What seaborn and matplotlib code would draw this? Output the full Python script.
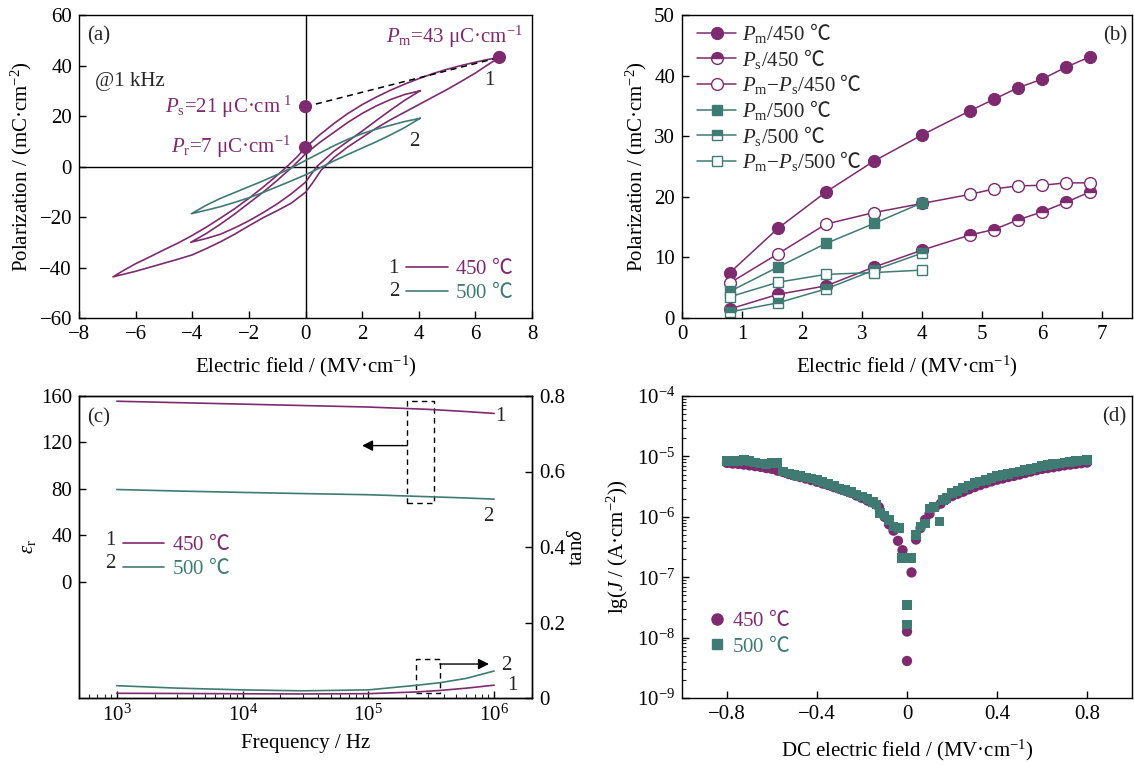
import numpy as np
import matplotlib
matplotlib.use('Agg')
import matplotlib.pyplot as plt
import seaborn as sns
from matplotlib.lines import Line2D
from matplotlib.patches import Rectangle
from matplotlib.ticker import LogLocator, NullFormatter

sns.set_theme(style='ticks')
plt.rcParams['font.family'] = ['Liberation Serif', 'DejaVu Serif', 'Noto Sans CJK SC']
plt.rcParams['mathtext.fontset'] = 'custom'
plt.rcParams['mathtext.rm'] = 'Liberation Serif'
plt.rcParams['mathtext.it'] = 'Liberation Serif:italic'
plt.rcParams['mathtext.bf'] = 'Liberation Serif:bold'
plt.rcParams['mathtext.sf'] = 'Noto Sans CJK SC'
plt.rcParams['mathtext.fallback'] = 'stix'
plt.rcParams['axes.linewidth'] = 1.0

PURPLE = '#7D2A6F'
TEAL = '#3F7B72'
FS = 15
DEG = r'$\mathsf{℃}$'

# ---------------- (a) P-E loops ----------------
LOOP450_OUT_E = [6.85, 6.4, 6.0, 5.5, 5.0, 4.5, 4.0, 3.5, 3.0, 2.5, 2.0, 1.5, 1.0, 0.5, 0.0, -0.3, -0.65,
                 -1.0, -1.5, -2.0, -2.5, -3.0, -3.5, -4.0, -4.5, -5.0, -5.5, -6.0, -6.4, -6.8,
                 -6.4, -6.0, -5.5, -5.0, -4.5, -4.0, -3.5, -3.0, -2.5, -2.0, -1.5, -1.0, -0.5, 0.0,
                 0.25, 0.55, 1.0, 1.5, 2.0, 2.5, 3.0, 3.5, 4.0, 4.5, 5.0, 5.5, 6.0, 6.4, 6.85]
LOOP450_OUT_P = [43.2, 42.3, 41.3, 40.0, 38.5, 36.8, 34.8, 32.6, 30.2, 27.5, 24.5, 21.0, 17.0, 12.5, 7.5, 3.8, 0.0,
                 -3.5, -8.2, -12.6, -16.7, -20.4, -24.0, -27.3, -30.3, -33.0, -35.8, -38.5, -41.0, -43.7,
                 -42.6, -41.5, -39.9, -38.3, -36.7, -35.0, -32.5, -29.8, -26.8, -23.5, -20.3, -17.5, -14.5, -10.2,
                 -6.5, -1.5, 3.5, 7.8, 11.5, 15.2, 18.5, 21.5, 24.5, 27.5, 30.5, 33.7, 37.0, 40.0, 43.2]
LOOP450_IN_E = [4.05, 3.5, 3.0, 2.5, 2.0, 1.5, 1.0, 0.5, 0.0, -0.45, -1.0, -1.5, -2.0, -2.5, -3.0, -3.5, -4.05,
                -3.5, -3.0, -2.5, -2.0, -1.5, -1.0, -0.5, 0.0, 0.4, 1.0, 1.5, 2.0, 2.5, 3.0, 3.5, 4.05]
LOOP450_IN_P = [30.0, 28.5, 26.5, 24.0, 21.0, 17.5, 13.5, 9.5, 5.0, 0.0, -5.5, -10.2, -14.5, -18.8, -22.8, -26.5, -30.0,
                -28.5, -26.8, -24.3, -21.5, -18.3, -14.8, -10.8, -6.2, 0.0, 6.0, 10.0, 14.0, 18.2, 22.3, 26.2, 30.0]
LOOP500_E = [4.05, 3.5, 3.0, 2.5, 2.0, 1.5, 1.0, 0.5, 0.0, -0.5, -1.0, -1.5, -2.0, -2.5, -3.0, -3.5, -4.03,
             -3.5, -3.0, -2.5, -2.0, -1.5, -1.0, -0.5, 0.0, 0.5, 1.0, 1.5, 2.0, 2.5, 3.0, 3.5, 4.05]
LOOP500_P = [19.1, 17.8, 16.3, 14.8, 13.0, 10.8, 8.2, 5.3, 2.4, -0.6, -3.2, -5.7, -8.0, -10.3, -12.6, -15.3, -18.7,
             -17.3, -15.9, -14.2, -12.4, -10.3, -8.0, -5.7, -3.3, -0.6, 2.2, 4.8, 7.3, 9.8, 12.5, 15.4, 19.1]
KEY_E = [6.85, 0.0, 0.0]
KEY_P = [43.2, 23.7, 7.5]

# ---------------- (b) P vs E ----------------
E_450 = [0.8, 1.6, 2.4, 3.2, 4.0, 4.8, 5.2, 5.6, 6.0, 6.4, 6.8]
PM_450 = [7.5, 14.8, 20.8, 25.9, 30.2, 34.2, 36.1, 38.0, 39.4, 41.4, 43.1]
PS_450 = [1.5, 3.9, 5.3, 8.4, 11.2, 13.7, 14.6, 16.2, 17.5, 19.1, 20.8]
PD_450 = [5.8, 10.6, 15.5, 17.4, 18.9, 20.4, 21.3, 21.8, 21.9, 22.3, 22.3]
E_500 = [0.8, 1.6, 2.4, 3.2, 4.0]
PM_500 = [4.4, 8.4, 12.3, 15.6, 19.0]
PS_500 = [1.0, 2.5, 4.8, 7.9, 10.7]
PD_500 = [3.5, 5.9, 7.2, 7.5, 7.9]

# ---------------- (c) dielectric ----------------
FREQ_EPS = [1e3, 3e3, 1e4, 3e4, 1e5, 3e5, 6e5, 1e6]
EPS_450 = [155.5, 154.3, 153.0, 151.8, 150.5, 148.5, 146.6, 145.0]
EPS_500 = [79.5, 78.2, 77.0, 76.0, 75.0, 73.3, 72.2, 71.2]
FREQ_TAN = [1e3, 3e3, 1e4, 3e4, 1e5, 2.4e5, 3.7e5, 6e5, 1e6]
TAN_450 = [0.0125, 0.012, 0.0112, 0.0108, 0.0115, 0.016, 0.020, 0.026, 0.034]
TAN_500 = [0.0326, 0.0262, 0.0215, 0.019, 0.0215, 0.0336, 0.0405, 0.052, 0.0715]
BOX_EPS = (2.04e5, 3.3e5, 67.7, 156.0)
BOX_TAN = (2.37e5, 3.7e5, 0.0124, 0.103)

# ---------------- (d) leakage ----------------
DC_450 = [-0.800, -0.775, -0.750, -0.725, -0.700, -0.675, -0.650, -0.625, -0.600, -0.575, -0.550, -0.525,
          -0.500, -0.475, -0.450, -0.425, -0.400, -0.375, -0.350, -0.325, -0.300, -0.275, -0.250, -0.225,
          -0.200, -0.175, -0.150, -0.125, -0.100, -0.080, -0.060, -0.040, -0.020, 0.000, 0.000, 0.020,
          0.040, 0.060, 0.080, 0.100, 0.125, 0.150, 0.175, 0.200, 0.225, 0.250, 0.275, 0.300, 0.325,
          0.350, 0.375, 0.400, 0.425, 0.450, 0.475, 0.500, 0.525, 0.550, 0.575, 0.600, 0.625, 0.650,
          0.675, 0.700, 0.725, 0.750, 0.775, 0.800]
J_450 = [7.8, 7.6, 7.5, 7.3, 7.1, 6.9, 6.7, 6.4, 6.2, 5.8, 5.5, 5.1,
         4.8, 4.55, 4.3, 4.05, 3.8, 3.55, 3.35, 3.1, 2.9, 2.7, 2.5, 2.25,
         2.05, 1.85, 1.7, 1.45, 1.0, 0.75, 0.59, 0.40, 0.28, 0.0126, 0.0041, 0.12,
         0.42, 0.65, 0.89, 1.12, 1.45, 1.65, 1.95, 2.2, 2.4, 2.6, 2.85, 3.1, 3.35,
         3.6, 3.85, 4.1, 4.3, 4.55, 4.75, 5.0, 5.3, 5.6, 5.9, 6.2, 6.4, 6.6,
         6.85, 7.1, 7.3, 7.5, 7.7, 7.9]
DC_500 = [-0.800, -0.775, -0.750, -0.725, -0.700, -0.675, -0.650, -0.625, -0.600, -0.575, -0.550, -0.525,
          -0.500, -0.475, -0.450, -0.425, -0.400, -0.375, -0.350, -0.325, -0.300, -0.275, -0.250, -0.225,
          -0.200, -0.175, -0.150, -0.135, -0.120, -0.100, -0.080, -0.060, -0.035, -0.024, 0.000, 0.000,
          0.019, 0.040, 0.060, 0.080, 0.100, 0.120, 0.145, 0.160, 0.175, 0.200, 0.225, 0.250, 0.275,
          0.300, 0.325, 0.350, 0.375, 0.400, 0.425, 0.450, 0.475, 0.500, 0.525, 0.550, 0.575, 0.600,
          0.625, 0.650, 0.675, 0.700, 0.725, 0.750, 0.775, 0.800]
J_500 = [8.3, 8.4, 8.4, 8.7, 8.3, 7.9, 7.6, 7.4, 7.8, 7.7, 5.6, 5.2,
         4.9, 4.7, 4.5, 4.3, 4.1, 3.8, 3.5, 3.2, 2.95, 2.75, 2.55, 2.35,
         2.18, 1.95, 1.75, 1.6, 1.15, 1.05, 0.89, 0.69, 0.65, 0.21, 0.035, 0.0165,
         0.21, 0.5, 0.69, 0.78, 1.38, 1.45, 0.83, 1.9, 2.05, 2.45, 2.7, 3.0, 3.3,
         3.6, 3.85, 4.1, 4.4, 4.7, 4.9, 5.15, 5.4, 5.6, 5.9, 6.2, 6.55, 6.9,
         7.15, 7.4, 7.65, 7.9, 8.1, 8.3, 8.5, 8.7]
DC_TICKS = [-0.8, -0.4, 0.0, 0.4, 0.8]
DC_TICKLABELS = ['\u22120.8', '\u22120.4', '0', '0.4', '0.8']


def style_axis(ax):
    ax.tick_params(direction='in', length=5, width=1, labelsize=FS, pad=5, colors='black')
    ax.tick_params(which='minor', direction='in', length=3, width=0.8)
    for s in ax.spines.values():
        s.set_color('black')
        s.set_linewidth(1.0)
    ax.grid(False)


fig = plt.figure(figsize=(11.34, 7.65), dpi=100)
W, H = 1134, 765
ax_a = fig.add_axes([79 / W, 1 - 318 / H, 453 / W, 303 / H])
ax_b = fig.add_axes([682 / W, 1 - 318 / H, 450 / W, 303 / H])
ax_c = fig.add_axes([79 / W, 1 - 698 / H, 453 / W, 302 / H])
ax_d = fig.add_axes([682 / W, 1 - 698 / H, 450 / W, 302 / H])

# ---------- panel (a) ----------
ax = ax_a
ax.axhline(0, color='black', lw=1.0, zorder=1)
ax.axvline(0, color='black', lw=1.0, zorder=1)
for e, p, c in [(LOOP450_OUT_E, LOOP450_OUT_P, PURPLE), (LOOP450_IN_E, LOOP450_IN_P, PURPLE),
                (LOOP500_E, LOOP500_P, TEAL)]:
    sns.lineplot(x=e, y=p, sort=False, estimator=None, color=c, lw=1.2, ax=ax)
sns.lineplot(x=[KEY_E[1], KEY_E[0]], y=[KEY_P[1], KEY_P[0]], sort=False, estimator=None,
             color='black', lw=1.1, linestyle=(0, (4, 3)), ax=ax)
sns.scatterplot(x=KEY_E, y=KEY_P, color=PURPLE, s=90, edgecolor='none', zorder=5, ax=ax)
ax.set_xlim(-8, 8)
ax.set_ylim(-60, 60)
ax.set_xticks(range(-8, 9, 2))
ax.set_yticks(range(-60, 61, 20))
style_axis(ax)
ax.set_xlabel(r'Electric field / (MV·cm$^{-1}$)', fontsize=FS, color='black', labelpad=7)
ax.set_ylabel(r'Polarization / (mC·cm$^{-2}$)', fontsize=FS, color='black')
ax.text(0.019, 0.93, '(a)', transform=ax.transAxes, fontsize=FS, va='center', ha='left')
ax.text(-7.45, 33.5, '@1 kHz', fontsize=FS, va='center', ha='left')
ax.text(7.7, 51.4, r'$P_\mathrm{m}$=43 μC·cm$^{-1}$', fontsize=FS, color=PURPLE, va='center', ha='right')
ax.text(-0.49, 23.7, r'$P_\mathrm{s}$=21 μC·cm$^{\ 1}$', fontsize=FS, color=PURPLE, va='center', ha='right')
ax.text(-0.49, 7.6, r'$P_\mathrm{r}$=7 μC·cm$^{-1}$', fontsize=FS, color=PURPLE, va='center', ha='right')
ax.text(6.5, 34.2, '1', fontsize=FS, va='center', ha='center')
ax.text(3.85, 9.8, '2', fontsize=FS, va='center', ha='center')
leg = ax.legend(handles=[Line2D([], [], color=PURPLE, lw=1.2), Line2D([], [], color=TEAL, lw=1.2)],
                labels=['450 ' + DEG, '500 ' + DEG], loc='upper left', bbox_to_anchor=(0.722, 0.197),
                frameon=False, fontsize=FS, handlelength=2.0, handletextpad=0.35, labelspacing=0.15,
                borderpad=0, borderaxespad=0)
for t, c in zip(leg.get_texts(), [PURPLE, TEAL]):
    t.set_color(c)
ax.text(0.695, 0.165, '1', transform=ax.transAxes, fontsize=FS, va='center', ha='center')
ax.text(0.695, 0.087, '2', transform=ax.transAxes, fontsize=FS, va='center', ha='center')

# ---------- panel (b) ----------
ax = ax_b
series_b = [
    (E_450, PM_450, PURPLE, 'o', 'full', r'$P_\mathrm{m}$/450 ' + DEG),
    (E_450, PS_450, PURPLE, 'o', 'top', r'$P_\mathrm{s}$/450 ' + DEG),
    (E_450, PD_450, PURPLE, 'o', 'none', r'$P_\mathrm{m}$−$P_\mathrm{s}$/450 ' + DEG),
    (E_500, PM_500, TEAL, 's', 'full', r'$P_\mathrm{m}$/500 ' + DEG),
    (E_500, PS_500, TEAL, 's', 'top', r'$P_\mathrm{s}$/500 ' + DEG),
    (E_500, PD_500, TEAL, 's', 'none', r'$P_\mathrm{m}$−$P_\mathrm{s}$/500 ' + DEG),
]
for x, y, c, m, fill, lab in series_b:
    kw = dict(marker=m, markersize=8.5 if m == 'o' else 7.5, markeredgecolor=c, markeredgewidth=1.0)
    if fill == 'none':
        kw.update(markerfacecolor='white')
    elif fill == 'top':
        kw.update(markerfacecolor=c, fillstyle='top', markerfacecoloralt='white')
    else:
        kw.update(markerfacecolor=c)
    sns.lineplot(x=x, y=y, sort=False, estimator=None, color=c, lw=1.1, label=lab, ax=ax, **kw)
ax.set_xlim(0, 7.5)
ax.set_ylim(0, 50)
ax.set_xticks(range(0, 8))
ax.set_yticks(range(0, 51, 10))
style_axis(ax)
ax.set_xlabel(r'Electric field / (MV·cm$^{-1}$)', fontsize=FS, color='black', labelpad=7)
ax.set_ylabel(r'Polarization / (mC·cm$^{-2}$)', fontsize=FS, color='black')
ax.legend(loc='upper left', bbox_to_anchor=(0.033, 0.98), frameon=False, fontsize=FS,
          handlelength=1.9, handletextpad=0.25, labelspacing=0.08, borderpad=0, borderaxespad=0)
ax.text(0.99, 0.93, '(b)', transform=ax.transAxes, fontsize=FS, va='center', ha='right')

# ---------- panel (c) ----------
ax = ax_c
ax2 = ax.twinx()
sns.lineplot(x=FREQ_EPS, y=EPS_450, color=PURPLE, lw=1.2, ax=ax)
sns.lineplot(x=FREQ_EPS, y=EPS_500, color=TEAL, lw=1.2, ax=ax)
sns.lineplot(x=FREQ_TAN, y=TAN_450, color=PURPLE, lw=1.2, ax=ax2)
sns.lineplot(x=FREQ_TAN, y=TAN_500, color=TEAL, lw=1.2, ax=ax2)
ax.set_xscale('log')
ax.set_xlim(500, 2e6)
ax.set_ylim(-100, 160)
ax.set_yticks(range(0, 161, 40))
ax2.set_ylim(0, 0.8)
ax2.set_yticks([0, 0.2, 0.4, 0.6, 0.8])
ax2.set_yticklabels(['0', '0.2', '0.4', '0.6', '0.8'])
ax.xaxis.set_major_locator(LogLocator(base=10, numticks=10))
ax.xaxis.set_minor_locator(LogLocator(base=10, subs=np.arange(2, 10), numticks=20))
ax.xaxis.set_minor_formatter(NullFormatter())
style_axis(ax)
style_axis(ax2)
ax.set_xlabel('Frequency / Hz', fontsize=FS, color='black', labelpad=6)
ax.set_ylabel(r'$\varepsilon_\mathrm{r}$', fontsize=FS, color='black', labelpad=2)
ax2.set_ylabel(r'tan$\delta$', fontsize=FS, color='black', labelpad=2)
x0, x1, y0, y1 = BOX_EPS
ax.add_patch(Rectangle((x0, y0), x1 - x0, y1 - y0, fill=False, ec='black', lw=1.0, ls=(0, (4, 3))))
ax.annotate('', xy=(8.9e4, 117.3), xytext=(x0, 117.3),
            arrowprops=dict(arrowstyle='-|>', color='black', lw=1.0, mutation_scale=16, shrinkA=0, shrinkB=0))
x0, x1, y0, y1 = BOX_TAN
ax2.add_patch(Rectangle((x0, y0), x1 - x0, y1 - y0, fill=False, ec='black', lw=1.0, ls=(0, (4, 3))))
ax2.annotate('', xy=(9.1e5, 0.09), xytext=(x1, 0.09),
             arrowprops=dict(arrowstyle='-|>', color='black', lw=1.0, mutation_scale=16, shrinkA=0, shrinkB=0))
ax.text(1.13e6, 142.6, '1', fontsize=FS, va='center', ha='center')
ax.text(9.06e5, 56.3, '2', fontsize=FS, va='center', ha='center')
ax2.text(1.26e6, 0.085, '2', fontsize=FS, va='center', ha='center')
ax2.text(1.4e6, 0.034, '1', fontsize=FS, va='center', ha='center')
ax.text(0.019, 0.927, '(c)', transform=ax.transAxes, fontsize=FS, va='center', ha='left')
leg = ax.legend(handles=[Line2D([], [], color=PURPLE, lw=1.2), Line2D([], [], color=TEAL, lw=1.2)],
                labels=['450 ' + DEG, '500 ' + DEG], loc='upper left', bbox_to_anchor=(0.097, 0.543),
                frameon=False, fontsize=FS, handlelength=1.97, handletextpad=0.4, labelspacing=0.15,
                borderpad=0, borderaxespad=0)
for t, c in zip(leg.get_texts(), [PURPLE, TEAL]):
    t.set_color(c)
ax.text(0.07, 0.523, '1', transform=ax.transAxes, fontsize=FS, va='center', ha='center')
ax.text(0.07, 0.447, '2', transform=ax.transAxes, fontsize=FS, va='center', ha='center')

# ---------- panel (d) ----------
ax = ax_d
sns.scatterplot(x=DC_450, y=np.array(J_450) * 1e-6, marker='o', color=PURPLE, s=55, edgecolor='none', ax=ax)
sns.scatterplot(x=DC_500, y=np.array(J_500) * 1e-6, marker='s', color=TEAL, s=48, edgecolor='none', ax=ax)
ax.set_yscale('log')
ax.set_ylim(1e-9, 1e-4)
ax.set_xlim(-1, 1)
ax.set_xticks(DC_TICKS)
ax.set_xticklabels(DC_TICKLABELS)
ax.yaxis.set_major_locator(LogLocator(base=10, numticks=10))
ax.yaxis.set_minor_locator(LogLocator(base=10, subs=np.arange(2, 10), numticks=20))
ax.yaxis.set_minor_formatter(NullFormatter())
style_axis(ax)
ax.set_xlabel(r'DC electric field / (MV·cm$^{-1}$)', fontsize=FS, color='black', labelpad=10)
ax.set_ylabel(r'lg($J$ / (A·cm$^{-2}$))', fontsize=FS, color='black')
ax.text(0.987, 0.93, '(d)', transform=ax.transAxes, fontsize=FS, va='center', ha='right')
leg = ax.legend(handles=[Line2D([], [], marker='o', ls='', color=PURPLE, markersize=8),
                         Line2D([], [], marker='s', ls='', color=TEAL, markersize=7)],
                labels=['450 ' + DEG, '500 ' + DEG], loc='upper left', bbox_to_anchor=(0.06, 0.29),
                frameon=False, fontsize=FS, handlelength=0.8, handletextpad=0.3, labelspacing=0.2,
                borderpad=0, borderaxespad=0)
for t, c in zip(leg.get_texts(), [PURPLE, TEAL]):
    t.set_color(c)

fig.savefig('out.png', dpi=100)
